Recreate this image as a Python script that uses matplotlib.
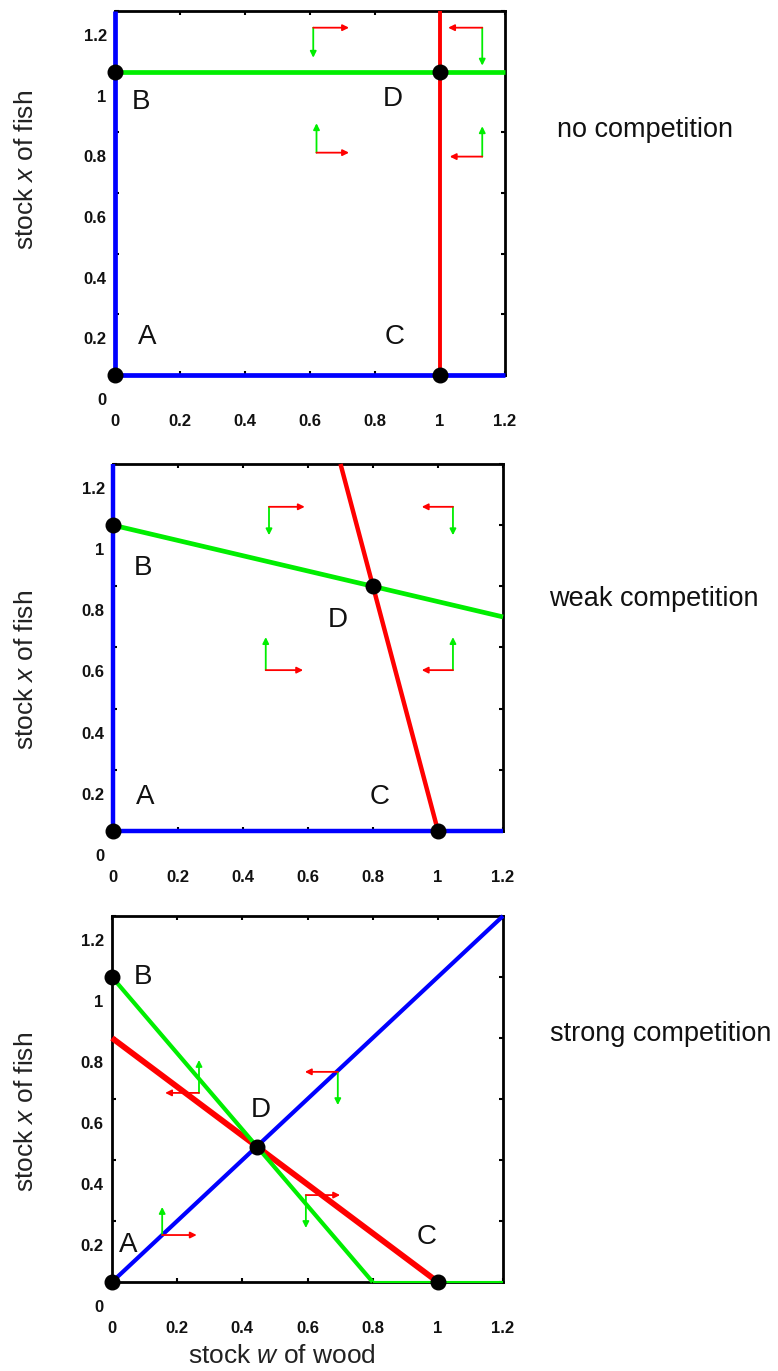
import matplotlib
matplotlib.use("Agg")
import matplotlib.pyplot as plt
import matplotlib.transforms as mtransforms

plt.rcParams['font.family'] = ['Liberation Sans', 'DejaVu Sans']
plt.rcParams['mathtext.fontset'] = 'custom'
plt.rcParams['mathtext.rm'] = 'Liberation Sans'
plt.rcParams['mathtext.it'] = 'Liberation Sans:italic'

BLUE = '#0000ff'
GREEN = '#00ee00'
RED = '#ff0000'

# ---------------- data ----------------
tick_vals = [0, 0.2, 0.4, 0.6, 0.8, 1.0, 1.2]
tick_labels = ['0', '0.2', '0.4', '0.6', '0.8', '1', '1.2']
panel_titles = ['no competition', 'weak competition', 'strong competition']

# isoclines (w values, x values)
p1_blue_w = [0, 0, 1.2]
p1_blue_x = [1.2, 0, 0]
p1_green_w = [0, 1.2]
p1_green_x = [1.0, 1.0]
p1_red_w = [1.0, 1.0]
p1_red_x = [0, 1.2]

p2_blue_w = [0, 0, 1.2]
p2_blue_x = [1.2, 0, 0]
p2_green_w = [0, 1.2]
p2_green_x = [1.0, 0.7]
p2_red_w = [1.0, 0.7]
p2_red_x = [0, 1.2]

p3_blue_w = [0, 1.2]
p3_blue_x = [0, 1.2]
p3_green_w = [0, 0.8]
p3_green_x = [1.0, 0]
p3_green2_w = [0.8, 1.2]
p3_green2_x = [0, 0]
p3_red_w = [0, 1.0]
p3_red_x = [0.8, 0]

# equilibrium points A, B, C, D
p1_pts_w = [0, 0, 1, 1]
p1_pts_x = [0, 1, 0, 1]
p2_pts_w = [0, 0, 1, 0.8]
p2_pts_x = [0, 1, 0, 0.8]
p3_pts_w = [0, 0, 1, 0.444]
p3_pts_x = [0, 1, 0, 0.444]

pt_names = ['A', 'B', 'C', 'D']
p1_lab_w = [0.10, 0.08, 0.86, 0.855]
p1_lab_x = [0.125, 0.90, 0.125, 0.91]
p2_lab_w = [0.10, 0.092, 0.82, 0.69]
p2_lab_x = [0.11, 0.86, 0.11, 0.69]
p3_lab_w = [0.05, 0.095, 0.965, 0.455]
p3_lab_x = [0.12, 1.0, 0.148, 0.564]

# direction arrows: corner (w, x), green end x, red end w
p1_arr_w = [0.61, 1.13, 0.62, 1.13]
p1_arr_x = [1.145, 1.145, 0.733, 0.72]
p1_arr_gx = [1.046, 1.02, 0.83, 0.82]
p1_arr_rw = [0.72, 1.025, 0.72, 1.03]

p2_arr_w = [0.48, 1.046, 0.47, 1.046]
p2_arr_x = [1.06, 1.06, 0.526, 0.526]
p2_arr_gx = [0.967, 0.967, 0.634, 0.634]
p2_arr_rw = [0.59, 0.95, 0.585, 0.95]

p3_arr_w = [0.267, 0.693, 0.154, 0.595]
p3_arr_x = [0.62, 0.689, 0.154, 0.285]
p3_arr_gx = [0.728, 0.58, 0.246, 0.177]
p3_arr_rw = [0.163, 0.592, 0.26, 0.70]

# ---------------- figure ----------------
fig = plt.figure(figsize=(7.78, 13.71), dpi=100)

positions = [
    [115/778, 1-375/1371, 390/778, 364/1371],
    [113/778, 1-831/1371, 390/778, 367/1371],
    [112/778, 1-1282/1371, 391/778, 366/1371],
]
ylabel_coords = [(-0.198, 0.563), (-0.193, 0.439), (-0.19, 0.464)]
title_pos = [(645, 130), (654, 599), (661, 1034)]

panels = [
    dict(lines=[(p1_blue_w, p1_blue_x, BLUE, 3.4), (p1_green_w, p1_green_x, GREEN, 3.4),
                (p1_red_w, p1_red_x, RED, 2.8)],
         pts=(p1_pts_w, p1_pts_x), labs=(p1_lab_w, p1_lab_x),
         arr=(p1_arr_w, p1_arr_x, p1_arr_gx, p1_arr_rw)),
    dict(lines=[(p2_blue_w, p2_blue_x, BLUE, 3.2), (p2_green_w, p2_green_x, GREEN, 3.4),
                (p2_red_w, p2_red_x, RED, 3.2)],
         pts=(p2_pts_w, p2_pts_x), labs=(p2_lab_w, p2_lab_x),
         arr=(p2_arr_w, p2_arr_x, p2_arr_gx, p2_arr_rw)),
    dict(lines=[(p3_green2_w, p3_green2_x, GREEN, 1.5), (p3_blue_w, p3_blue_x, BLUE, 3.0),
                (p3_red_w, p3_red_x, RED, 4.2), (p3_green_w, p3_green_x, GREEN, 3.0)],
         pts=(p3_pts_w, p3_pts_x), labs=(p3_lab_w, p3_lab_x),
         arr=(p3_arr_w, p3_arr_x, p3_arr_gx, p3_arr_rw)),
]

label_offset = mtransforms.ScaledTranslation(0, -24/100, fig.dpi_scale_trans)

for i, pnl in enumerate(panels):
    ax = fig.add_axes(positions[i])
    ax.set_xlim(0, 1.2)
    ax.set_ylim(0, 1.2)
    for sp in ax.spines.values():
        sp.set_linewidth(2.0)
        sp.set_color('black')
    ax.set_xticks(tick_vals)
    ax.set_xticklabels(tick_labels)
    ax.set_yticks(tick_vals)
    ax.set_yticklabels(tick_labels)
    ax.tick_params(axis='both', direction='in', length=3, width=1.5,
                   top=True, right=True, labelsize=12)
    ax.tick_params(axis='x', pad=28)
    ax.tick_params(axis='y', pad=6)
    for lab in ax.get_xticklabels() + ax.get_yticklabels():
        lab.set_fontweight('bold')
        lab.set_color('#111111')
    for lab in ax.get_yticklabels():
        lab.set_transform(lab.get_transform() + label_offset)

    for (w, x, c, lw) in pnl['lines']:
        ax.plot(w, x, color=c, lw=lw, clip_on=False, solid_capstyle='butt', zorder=3)

    aw, ax_, agx, arw = pnl['arr']
    for j in range(len(aw)):
        ax.annotate('', xy=(aw[j], agx[j]), xytext=(aw[j], ax_[j]),
                    arrowprops=dict(arrowstyle='-|>', color=GREEN, lw=1.3,
                                    mutation_scale=9, shrinkA=0, shrinkB=0), zorder=4)
        ax.annotate('', xy=(arw[j], ax_[j]), xytext=(aw[j], ax_[j]),
                    arrowprops=dict(arrowstyle='-|>', color=RED, lw=1.3,
                                    mutation_scale=9, shrinkA=0, shrinkB=0), zorder=4)

    pw, px = pnl['pts']
    ax.plot(pw, px, 'o', color='black', ms=10.5, clip_on=False, zorder=6, ls='none')

    lw_, lx_ = pnl['labs']
    for j, name in enumerate(pt_names):
        ax.text(lw_[j], lx_[j], name, fontsize=20, ha='center', va='center',
                color='#111111', zorder=7)

    ax.set_ylabel('stock $x$ of fish', fontsize=19, color='#222222')
    ax.yaxis.set_label_coords(*ylabel_coords[i])
    if i == 2:
        ax.set_xlabel('stock $w$ of wood', fontsize=19, color='#222222')
        ax.xaxis.set_label_coords(0.435, -0.17)

    fig.text(title_pos[i][0]/778, 1-title_pos[i][1]/1371, panel_titles[i],
             fontsize=19.5, ha='center', va='center', color='#111111')

fig.savefig('out.png', dpi=100)
